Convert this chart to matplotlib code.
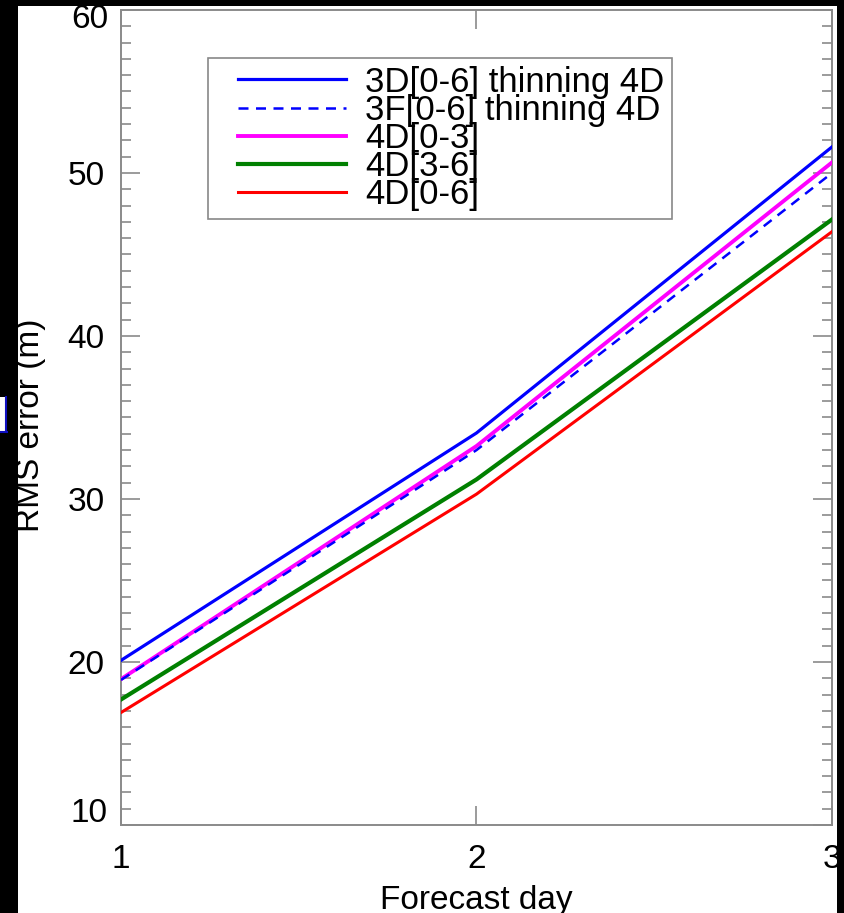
import matplotlib
matplotlib.use("Agg")
import matplotlib.pyplot as plt
from matplotlib.patches import Rectangle
from matplotlib.lines import Line2D
from matplotlib.ticker import MultipleLocator, FixedLocator, FuncFormatter
from matplotlib.legend_handler import HandlerLine2D

plt.rcParams['font.family'] = ['Liberation Sans', 'DejaVu Sans']

days = [1, 2, 3]
labels = ["3D[0-6] thinning 4D", "3F[0-6] thinning 4D", "4D[0-3]", "4D[3-6]", "4D[0-6]"]
rms_3d_thin = [20.1, 34.05, 51.6]
rms_3f_thin = [18.9, 33.0, 50.0]
rms_4d_03 = [18.95, 33.25, 50.65]
rms_4d_36 = [17.7, 31.2, 47.15]
rms_4d_06 = [16.9, 30.3, 46.4]
y_ticks = [10, 20, 30, 40, 50, 60]

W, H = 845, 913
fig = plt.figure(figsize=(W / 100, H / 100), dpi=100)
fig.patch.set_facecolor('black')

# white panel
fig.patches.append(Rectangle((18 / W, 0), (837 - 18) / W, (H - 6) / H,
                             transform=fig.transFigure, facecolor='white',
                             edgecolor='none', zorder=-5))
# partial blue hyperlink glyph at left edge
fig.patches.append(Rectangle((0, 1 - 432 / H), 6 / W, 35 / H,
                             transform=fig.transFigure, facecolor='white',
                             edgecolor='none', zorder=-4))
fig.lines.append(Line2D([6.5 / W, 6.5 / W], [1 - 397 / H, 1 - 431 / H],
                        transform=fig.transFigure, color='#1010c0', lw=1.5, zorder=-3))
fig.lines.append(Line2D([0, 7.5 / W], [1 - 432 / H, 1 - 432 / H],
                        transform=fig.transFigure, color='#1010c0', lw=1.5, zorder=-3))

ax = fig.add_axes([121 / W, 1 - 825 / H, (832 - 121) / W, (825 - 10) / H])
ax.set_zorder(2)
ax.set_facecolor('white')

h_blue, = ax.plot(days, rms_3d_thin, color='#0000ff', lw=2.3, zorder=3, label=labels[0])
h_mag, = ax.plot(days, rms_4d_03, color='#ff00ff', lw=2.8, zorder=3, label=labels[2])
h_dash, = ax.plot(days, rms_3f_thin, color='#0000ff', lw=1.8, ls=(0, (4, 3)), zorder=4, label=labels[1])
h_green, = ax.plot(days, rms_4d_36, color='#008000', lw=3.0, zorder=3, label=labels[3])
h_red, = ax.plot(days, rms_4d_06, color='#ff0000', lw=2.2, zorder=3, label=labels[4])

ax.set_xlim(1, 3)
ax.set_ylim(10, 60)
ax.xaxis.set_major_locator(FixedLocator(days))
ax.yaxis.set_major_locator(FixedLocator(y_ticks))
ax.yaxis.set_minor_locator(MultipleLocator(1))
ax.yaxis.set_major_formatter(FuncFormatter(
    lambda v, p: '' if v in (y_ticks[0], y_ticks[-1]) else f'{v:g}'))

tick_color = '#8a8a8a'
ax.tick_params(axis='both', which='major', direction='in', length=14, width=1.2,
               color=tick_color, labelsize=24, labelcolor='black')
ax.tick_params(axis='y', which='minor', direction='in', length=7, width=1.2, color=tick_color)
ax.tick_params(axis='y', which='both', left=True, right=True)
ax.tick_params(axis='x', which='both', bottom=True, top=True, pad=14)
ax.tick_params(axis='y', which='major', pad=12)
for s in ax.spines.values():
    s.set_color(tick_color)
    s.set_linewidth(1.4)

# end labels shifted inside, as in the original
ax.annotate(f'{y_ticks[-1]:g}', xy=(0, y_ticks[-1]), xycoords=('axes fraction', 'data'),
            xytext=(-13, -10), textcoords='offset pixels', ha='right', va='center',
            fontsize=24, annotation_clip=False)
ax.annotate(f'{y_ticks[0]:g}', xy=(0, y_ticks[0]), xycoords=('axes fraction', 'data'),
            xytext=(-13, 12), textcoords='offset pixels', ha='right', va='center',
            fontsize=24, annotation_clip=False)

ax.set_xlabel('Forecast day', fontsize=24, labelpad=7)
ax.set_ylabel('RMS error (m)', fontsize=24)
ax.yaxis.set_label_coords(-0.106, 0.49)


class OffsetLineHandler(HandlerLine2D):
    def __init__(self, offset_px, **kw):
        super().__init__(**kw)
        self.offset_px = offset_px

    def get_xdata(self, legend, xdescent, ydescent, width, height, fontsize):
        xd = [-xdescent + self.offset_px, -xdescent + width]
        return xd, xd


fs_leg = 25
handler = OffsetLineHandler(offset_px=16)
leg = ax.legend(handles=[h_blue, h_dash, h_mag, h_green, h_red],
                handler_map={Line2D: handler},
                loc='upper left', bbox_to_anchor=((208 - 121) / (832 - 121), 1 - (58 - 10) / (825 - 10)),
                prop={'size': fs_leg}, frameon=True, fancybox=False, framealpha=1,
                edgecolor='#888888', labelspacing=-0.14, handlelength=3.75,
                handletextpad=0.55, borderpad=0.22, borderaxespad=0)
leg.get_frame().set_linewidth(1.2)

fig.savefig('out.png', dpi=100, facecolor=fig.get_facecolor())
